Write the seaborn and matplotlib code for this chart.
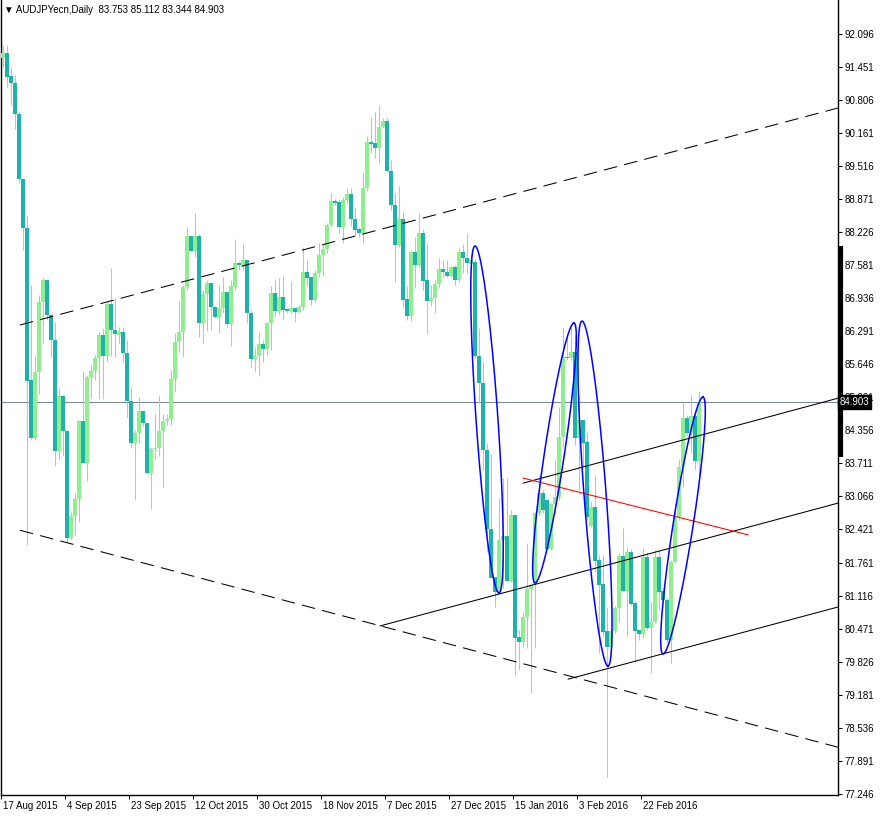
import matplotlib
matplotlib.use('Agg')
import matplotlib.pyplot as plt
import matplotlib.transforms as mtransforms
import numpy as np
import pandas as pd
import seaborn as sns

# AUDJPYecn daily candles (one bar per trading day, Sunday bars included)
opens = [91.63, 91.72, 91.28, 91.14, 90.53, 89.26, 88.30, 85.33, 84.20, 85.49,
         86.86, 87.29, 86.61, 86.12, 83.95, 85.02, 84.34, 82.25, 82.68, 83.01,
         84.53, 83.71, 85.39, 85.51, 85.77, 86.22, 85.81, 86.82, 86.31, 86.22,
         86.27, 85.86, 84.93, 84.10, 84.30, 84.73, 84.50, 83.52, 83.99, 84.01,
         84.34, 84.53, 84.57, 85.35, 86.08, 86.27, 87.15, 88.15, 87.86, 88.15,
         86.45, 87.02, 87.23, 86.76, 86.57, 86.74, 87.06, 86.43, 87.15, 87.62,
         87.58, 87.68, 86.65, 85.75, 85.80, 86.04, 85.94, 86.45, 87.04, 86.68,
         86.96, 86.72, 86.68, 86.74, 86.66, 86.76, 87.45, 87.35, 86.90, 87.43,
         87.78, 87.90, 88.37, 88.83, 88.81, 88.33, 88.85, 88.97, 88.48, 88.29,
         88.21, 89.09, 89.99, 89.97, 89.87, 90.28, 90.40, 89.42, 88.76, 87.97,
         88.48, 86.92, 86.59, 87.84, 87.58, 88.21, 87.29, 86.88, 86.94, 87.21,
         87.50, 87.45, 87.37, 87.54, 87.29, 87.84, 87.72, 87.60, 87.64, 85.80,
         85.28, 83.97, 82.42, 81.49, 81.20, 82.21, 82.29, 81.41, 82.70, 80.32,
         80.22, 80.71, 81.25, 81.35, 82.74, 83.13, 82.99, 82.03, 82.91, 83.05,
         84.22, 85.79, 85.77, 85.88, 84.20, 84.55, 84.12, 82.48, 82.86, 81.82,
         81.35, 80.43, 80.12, 80.43, 80.88, 81.90, 81.22, 81.98, 80.98, 80.45,
         80.37, 81.88, 80.49, 80.61, 81.88, 81.22, 81.04, 80.26, 81.78, 82.66,
         83.64, 84.59, 84.30, 84.63, 83.753]
highs = [91.88, 91.88, 91.45, 91.30, 90.59, 89.26, 88.56, 87.19, 85.83, 87.00,
         87.33, 87.29, 86.64, 86.47, 85.18, 85.04, 84.36, 82.76, 83.13, 84.55,
         85.51, 85.43, 85.63, 85.83, 86.27, 86.35, 86.86, 87.52, 86.94, 86.37,
         86.37, 86.12, 85.20, 84.36, 85.00, 84.73, 84.50, 84.03, 84.67, 85.04,
         84.67, 84.67, 85.53, 86.25, 86.88, 87.19, 88.33, 88.15, 88.60, 88.19,
         87.09, 87.29, 87.23, 86.78, 87.19, 87.35, 87.06, 87.29, 88.09, 87.66,
         87.99, 87.68, 86.70, 85.96, 86.27, 86.12, 86.47, 87.17, 87.29, 87.33,
         87.37, 86.74, 87.27, 86.74, 86.80, 87.94, 87.68, 87.35, 87.49, 88.01,
         87.98, 88.40, 88.99, 88.87, 88.87, 88.91, 89.09, 89.09, 88.72, 88.33,
         89.40, 90.10, 90.47, 90.57, 90.71, 90.45, 90.45, 89.63, 88.99, 89.13,
         88.62, 87.17, 87.88, 88.13, 88.60, 88.29, 87.99, 87.19, 87.29, 87.72,
         87.68, 87.68, 87.56, 87.58, 87.92, 88.00, 88.21, 87.80, 87.70, 86.35,
         85.69, 84.10, 83.89, 81.49, 83.03, 83.42, 83.42, 82.80, 82.70, 80.45,
         80.82, 82.15, 81.35, 82.76, 83.48, 83.19, 83.01, 82.93, 83.77, 84.81,
         86.37, 86.25, 86.37, 86.22, 85.04, 84.55, 84.30, 82.95, 83.48, 81.92,
         81.92, 80.88, 80.49, 80.92, 81.96, 82.45, 82.08, 82.04, 81.02, 80.45,
         82.06, 81.98, 81.00, 82.02, 82.02, 81.28, 81.08, 81.82, 82.93, 83.79,
         84.91, 84.65, 85.04, 84.71, 85.112]
lows = [91.45, 91.06, 90.71, 90.24, 89.18, 87.88, 82.11, 84.16, 84.16, 85.06,
        86.06, 86.51, 85.79, 83.66, 83.77, 83.85, 82.15, 82.23, 82.31, 82.56,
        83.71, 83.36, 84.98, 85.33, 84.96, 84.96, 85.71, 85.81, 85.79, 86.06,
        85.69, 84.61, 84.01, 82.99, 84.10, 84.44, 83.50, 82.82, 83.79, 83.85,
        83.25, 84.45, 84.45, 85.10, 85.88, 85.79, 87.09, 87.86, 87.74, 86.18,
        86.06, 86.29, 86.31, 86.55, 86.25, 86.65, 86.37, 86.00, 87.09, 87.48,
        87.48, 86.45, 85.59, 85.49, 85.41, 85.69, 85.82, 85.92, 86.59, 86.63,
        86.51, 86.64, 86.64, 86.47, 86.64, 86.70, 87.17, 86.80, 86.86, 87.35,
        87.37, 87.82, 88.33, 88.75, 88.21, 88.01, 88.79, 88.34, 88.17, 88.13,
        88.01, 89.03, 89.77, 89.67, 89.58, 90.26, 89.42, 88.66, 87.25, 87.93,
        86.76, 86.51, 86.49, 87.13, 87.54, 87.09, 86.24, 86.78, 86.65, 87.13,
        87.35, 87.35, 87.35, 87.19, 87.25, 87.43, 87.43, 87.55, 85.77, 84.89,
        83.58, 81.97, 81.47, 80.90, 81.18, 81.27, 81.39, 81.39, 79.57, 79.67,
        80.12, 80.10, 79.22, 80.10, 82.70, 82.74, 82.01, 82.01, 82.74, 82.99,
        84.03, 85.73, 85.73, 84.06, 83.19, 83.66, 82.60, 82.46, 81.58, 80.00,
        80.33, 77.58, 80.06, 80.39, 80.61, 81.20, 80.33, 80.94, 79.83, 80.26,
        80.30, 80.45, 79.61, 80.59, 80.84, 81.00, 80.22, 79.81, 81.76, 82.60,
        83.25, 84.26, 83.91, 83.58, 83.344]
closes = [91.72, 91.26, 91.14, 90.53, 89.26, 88.30, 85.32, 84.20, 85.49, 86.86,
          87.29, 86.61, 86.12, 83.95, 85.02, 84.34, 82.25, 82.68, 83.01, 84.53,
          83.71, 85.39, 85.51, 85.77, 86.22, 85.81, 86.82, 86.31, 86.23, 86.27,
          85.86, 84.93, 84.10, 84.30, 84.73, 84.50, 83.52, 83.99, 84.01, 84.34,
          84.53, 84.57, 85.35, 86.08, 86.27, 87.15, 88.15, 87.86, 88.15, 86.45,
          87.02, 87.23, 86.76, 86.57, 86.74, 87.06, 86.43, 87.17, 87.62, 87.58,
          87.68, 86.65, 85.75, 85.80, 86.04, 85.94, 86.45, 87.04, 86.68, 86.96,
          86.70, 86.68, 86.74, 86.66, 86.76, 87.45, 87.33, 86.90, 87.43, 87.78,
          87.90, 88.37, 88.83, 88.79, 88.33, 88.85, 88.97, 88.48, 88.27, 88.21,
          89.09, 89.99, 89.95, 89.87, 90.28, 90.40, 89.42, 88.76, 87.97, 88.48,
          86.90, 86.59, 87.84, 87.58, 88.21, 87.27, 86.88, 86.94, 87.21, 87.50,
          87.45, 87.37, 87.54, 87.29, 87.84, 87.72, 87.62, 87.68, 85.80, 85.28,
          83.97, 82.42, 81.47, 81.20, 82.21, 82.29, 81.41, 82.70, 80.30, 80.22,
          80.71, 81.25, 81.33, 82.74, 83.13, 82.80, 82.03, 82.91, 83.05, 84.22,
          85.79, 85.77, 85.88, 84.20, 84.55, 84.10, 82.66, 82.86, 81.80, 81.33,
          80.41, 80.12, 80.43, 80.88, 81.90, 81.22, 81.98, 80.96, 80.43, 80.37,
          81.88, 80.49, 80.61, 81.88, 81.20, 81.04, 80.26, 81.78, 82.66, 83.64,
          84.59, 84.30, 84.63, 83.75, 84.903]

date_labels = ['17 Aug 2015', '4 Sep 2015', '23 Sep 2015', '12 Oct 2015', '30 Oct 2015',
               '18 Nov 2015', '7 Dec 2015', '27 Dec 2015', '15 Jan 2016', '3 Feb 2016',
               '22 Feb 2016']
price_ticks = [77.246, 77.891, 78.536, 79.181, 79.826, 80.471, 81.116, 81.761, 82.421,
               83.066, 83.711, 84.356, 85.001, 85.646, 86.291, 86.936, 87.581, 88.226,
               88.871, 89.516, 90.161, 90.806, 91.451, 92.096]
last_price = 84.903

# drawn objects: (bar index, price) end points
dashed_lines = [((4.25, 86.41), (208.75, 90.65)),
                ((4.25, 82.40), (208.75, 78.16))]
solid_lines = [((94.25, 80.53), (208.75, 82.93)),
               ((130.0, 83.32), (208.75, 84.98)),
               ((141.25, 79.49), (208.75, 80.90))]
red_line = ((130.0, 83.42), (186.25, 82.31))
ellipses = [((118.0, 87.954), (124.0, 81.174), 0.063),
            ((133.0, 81.369), (142.75, 86.449), 0.076),
            ((144.75, 86.488), (151.25, 79.747), 0.064),
            ((165.0, 79.982), (175.0, 85.003), 0.077)]

df = pd.DataFrame({'open': opens, 'high': highs, 'low': lows, 'close': closes})
df['idx'] = np.arange(len(df))
df['bull'] = df['close'] >= df['open']

sns.set_style('white')
plt.rcParams['font.family'] = ['Liberation Sans', 'DejaVu Sans']

fig = plt.figure(figsize=(8.81, 8.17), dpi=100)
ax = fig.add_axes([1 / 881, 22 / 817, 837 / 881, 795 / 817])
ax.set_xlim(-0.5, 208.75)
ax.set_ylim(77.227, 92.760)

# candles
ax.vlines(df['idx'], df['low'], df['high'], color='#c0c0c0', linewidth=0.75, zorder=2)
body = (df['close'] - df['open']).abs().clip(lower=0.02)
bottom = df[['open', 'close']].min(axis=1)
colors = np.where(df['bull'], '#90ee90', '#20b2aa')
ax.bar(df['idx'], body, bottom=bottom, width=0.8, color=colors, linewidth=0, zorder=3)

# last price line
ax.axhline(last_price, color='#778899', linewidth=0.75, zorder=1)

# trend lines
for p1, p2 in dashed_lines:
    ax.plot([p1[0], p2[0]], [p1[1], p2[1]], color='black', linewidth=0.75,
            linestyle=(0, (13, 7)), zorder=4)
for p1, p2 in solid_lines:
    sns.lineplot(x=[p1[0], p2[0]], y=[p1[1], p2[1]], ax=ax, color='black',
                 linewidth=0.75, sort=False, estimator=None, zorder=4)
sns.lineplot(x=[red_line[0][0], red_line[1][0]], y=[red_line[0][1], red_line[1][1]],
             ax=ax, color='red', linewidth=0.75, sort=False, estimator=None, zorder=4)

# ellipses built in screen space so they keep their shape
inv = ax.transData.inverted()
t = np.linspace(0, 2 * np.pi, 300)
for p1, p2, ratio in ellipses:
    a = ax.transData.transform(p1)
    b = ax.transData.transform(p2)
    c = (a + b) / 2
    v = (b - a) / 2
    n = np.array([-v[1], v[0]]) * ratio
    pts = c + np.outer(np.cos(t), v) + np.outer(np.sin(t), n)
    d = inv.transform(pts)
    ax.plot(d[:, 0], d[:, 1], color='#0000ff', linewidth=1.1, zorder=5)

# axes styling
for side in ['left', 'right', 'bottom']:
    ax.spines[side].set_visible(True)
    ax.spines[side].set_color('black')
    ax.spines[side].set_linewidth(1.0)
ax.spines['top'].set_visible(False)

ax.yaxis.tick_right()
ax.set_yticks(price_ticks)
ax.set_yticklabels(['%.3f' % p for p in price_ticks])
ax.tick_params(axis='y', direction='out', length=3, width=0.75, pad=1.5,
               labelsize=7, colors='black', right=True, left=False)

ax.set_xticks([16 * k - 0.5 for k in range(len(date_labels))])
ax.set_xticklabels(date_labels, ha='left')
ax.tick_params(axis='x', direction='out', length=3, width=0.75, pad=1.5,
               labelsize=7, colors='black', bottom=True)
offset = mtransforms.ScaledTranslation(2 / 100, 0, fig.dpi_scale_trans)
for lab in ax.get_xticklabels():
    lab.set_transform(lab.get_transform() + offset)

# price tag and scale marker on the right axis
yb = mtransforms.blended_transform_factory(ax.transAxes, ax.transData)
ax.text(1.002, last_price, '%.3f' % last_price, transform=yb, ha='left', va='center',
        fontsize=7, color='white', zorder=10, clip_on=False,
        bbox=dict(boxstyle='square,pad=0.2', fc='black', ec='black'))
ax.plot([1.003, 1.003], [83.83, 87.95], transform=yb, color='black', linewidth=3,
        clip_on=False, solid_capstyle='butt', zorder=6)

fig.text(4 / 881, 1 - 10 / 817, '\u25bc AUDJPYecn,Daily  83.753 85.112 83.344 84.903',
         fontsize=7, va='center', ha='left', color='black')

plt.savefig('out.png', dpi=100)
